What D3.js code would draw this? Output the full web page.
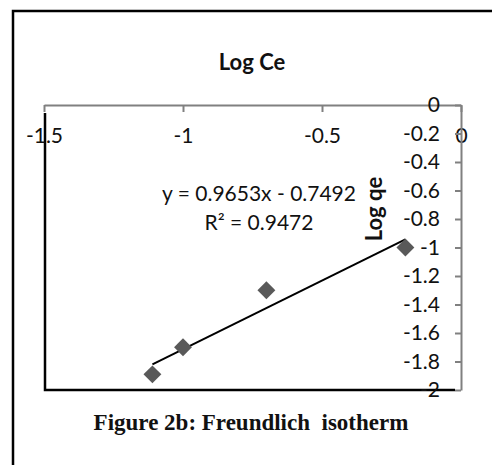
<!DOCTYPE html>
<html><head><meta charset="utf-8">
<script src="https://cdn.jsdelivr.net/npm/d3@7"></script>
<style>html,body{margin:0;padding:0;background:#fff;}svg{display:block;}</style>
</head><body>
<svg id="c" width="492" height="465"></svg>
<script>
// Data
const logCe = [-1.11, -1.0, -0.7, -0.2];
const logQe = [-1.89, -1.7, -1.3, -1.0];
const xTicks = [-1.5, -1, -0.5, 0];
const yTicks = [0, -0.2, -0.4, -0.6, -0.8, -1, -1.2, -1.4, -1.6, -1.8, -2];
const trend = { slope: 0.9653, intercept: -0.7492 };
const eqLines = ["y = 0.9653x - 0.7492", "R² = 0.9472"];
const titleX = "Log Ce", titleY = "Log qe";
const caption = "Figure 2b: Freundlich\u00a0 isotherm";

const svg = d3.select("#c");
const F = "Lato, 'Open Sans', sans-serif";
const x = d3.scaleLinear().domain([-1.5, 0]).range([44, 461]);
const y = d3.scaleLinear().domain([0, -2]).range([105, 390]);

// outer frame (left & top)
svg.append("path").attr("d", "M13,465 L13,11 L492,11").attr("fill", "none")
  .attr("stroke", "#000").attr("stroke-width", 2.5);

// black left/bottom lines
svg.append("path").attr("d", `M${x(-1.5)+1},113 L${x(-1.5)+1},${y(-2)} L455,${y(-2)}`)
  .attr("fill", "none").attr("stroke", "#000").attr("stroke-width", 2.5);

const fmt = d => String(+d.toFixed(1));
const TS = 21;

// top x axis
const gx = svg.append("g").attr("transform", `translate(0,${y(0)})`)
  .call(d3.axisBottom(x).tickValues(xTicks).tickFormat(fmt).tickSize(7).tickSizeOuter(0).tickPadding(16));
gx.select(".domain").attr("stroke", "#808080").attr("stroke-width", 2);
gx.selectAll(".tick line").attr("stroke", "#808080").attr("stroke-width", 2);
gx.selectAll("text").attr("font-family", F).attr("font-size", TS).attr("fill", "#111");

// right y axis
const gy = svg.append("g").attr("transform", `translate(${x(0)},0)`)
  .call(d3.axisLeft(y).tickValues(yTicks).tickFormat(fmt).tickSize(6).tickSizeOuter(0).tickPadding(15));
gy.select(".domain").attr("stroke", "#808080").attr("stroke-width", 2);
gy.selectAll(".tick line").attr("stroke", "#808080").attr("stroke-width", 2);
gy.selectAll("text").attr("font-family", F).attr("font-size", TS).attr("fill", "#111");

// trendline
const xr = d3.extent(logCe);
svg.append("line")
  .attr("x1", x(xr[0])).attr("y1", y(trend.slope * xr[0] + trend.intercept))
  .attr("x2", x(xr[1])).attr("y2", y(trend.slope * xr[1] + trend.intercept))
  .attr("stroke", "#000").attr("stroke-width", 2);

// points
svg.append("g").selectAll("path").data(logCe).join("path")
  .attr("transform", (d, i) => `translate(${x(d)},${y(logQe[i])}) rotate(45)`)
  .attr("d", d3.symbol().type(d3.symbolSquare).size(160))
  .attr("fill", "#595959");

// titles
svg.append("text").attr("x", 252).attr("y", 70).attr("text-anchor", "middle")
  .attr("font-family", F).attr("font-weight", "bold").attr("font-size", 22).attr("fill", "#111").text(titleX);
svg.append("text").attr("transform", "translate(382,209) rotate(-90)").attr("text-anchor", "middle")
  .attr("font-family", F).attr("font-weight", "bold").attr("font-size", 22).attr("fill", "#111").text(titleY);

// equation
eqLines.forEach((t, i) => svg.append("text").attr("x", 259).attr("y", 201 + i * 29)
  .attr("text-anchor", "middle").attr("font-family", F).attr("font-size", TS).attr("fill", "#111").text(t));

// caption
svg.append("text").attr("x", 251).attr("y", 430).attr("text-anchor", "middle")
  .attr("font-family", "'Liberation Serif', 'Times New Roman', serif").attr("font-weight", "bold")
  .attr("font-size", 23).attr("fill", "#111").text(caption);
</script>
</body></html>
